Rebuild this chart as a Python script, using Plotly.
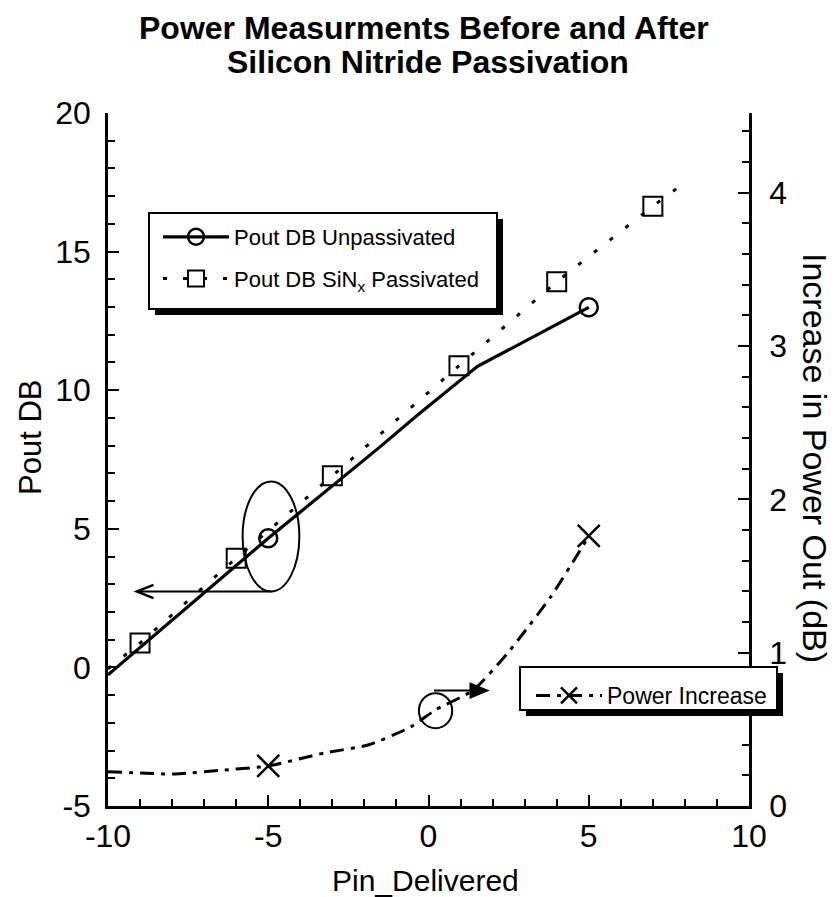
import plotly.graph_objects as go

# ---------------- data ----------------
# Pout DB, unpassivated (solid line, circle markers)
unpass_x = [-10.0, -7.75, -5.0, -1.56, -0.32, 1.53, 5.0]
unpass_y = [-0.27, 1.96, 4.66, 7.91, 9.12, 10.86, 12.99]
unpass_mark_x = [-5.0, 5.0]
unpass_mark_y = [4.66, 12.99]

# Pout DB, SiNx passivated (dotted line, square markers)
pass_x = [-10.0, -9.0, -6.0, -3.0, 0.95, 4.0, 7.0, 7.82]
pass_y = [-0.05, 0.88, 3.94, 6.91, 10.88, 13.91, 16.64, 17.34]
pass_mark_x = [-9.0, -6.0, -3.0, 0.95, 4.0, 7.0]
pass_mark_y = [0.88, 3.94, 6.91, 10.88, 13.91, 16.64]

# Increase in power out (dB), right axis (dash-dot line, x markers)
incr_x = [-10.0, -7.92, -6.36, -5.0, -3.25, -1.89, -0.55, 0.22, 1.40, 2.44, 2.97, 3.80, 4.68, 5.0]
incr_y = [0.224, 0.209, 0.235, 0.261, 0.346, 0.398, 0.516, 0.627, 0.757, 0.99, 1.13, 1.36, 1.65, 1.762]
incr_mark_x = [-5.0, 5.0]
incr_mark_y = [0.261, 1.762]

# axes and tick labels
x_range = [-10, 10]
y_range = [-5, 20]
y2_range = [0, 4.52]
x_tickvals = [-10, -5, 0, 5, 10]
x_ticktext = ["-10", "-5", "0", "5", "10"]
y_tickvals = [-5, 0, 5, 10, 15, 20]
y_ticktext = ["-5", "0", "5", "10", "15", "20"]

# callout annotations (ellipse + arrow to left axis, circle + arrow to right axis)
ell_left = dict(x0=-5.80, x1=-4.03, y0=2.74, y1=6.71)
arrow_left = dict(x_tail=-4.90, x_tip=-9.10, y=2.74)
circ_right = dict(x0=-0.30, x1=0.74, y0=0.507, y1=0.736)
arrow_right = dict(x_tail=0.17, x_tip=1.83, y=0.753)

FONT = "Liberation Sans, Arial, Helvetica, sans-serif"

# ---------------- figure ----------------
L, R, T, B = 108, 91, 113, 91
W, H = 840, 897
PW, PH = W - L - R, H - T - B


def px_x(px):
    return (px - L) / PW


def px_y(py):
    return (H - B - py) / PH


fig = go.Figure()

DOT = "4px,16px"
DASHDOT = "14px,7px,4px,7px"

# lines
fig.add_trace(go.Scatter(x=unpass_x, y=unpass_y, mode="lines", showlegend=False,
                         line=dict(color="black", width=3.2), hoverinfo="skip"))
fig.add_trace(go.Scatter(x=pass_x, y=pass_y, mode="lines", showlegend=False,
                         line=dict(color="black", width=3, dash=DOT), hoverinfo="skip"))
fig.add_trace(go.Scatter(x=incr_x, y=incr_y, mode="lines", yaxis="y2", showlegend=False,
                         line=dict(color="black", width=3, dash=DASHDOT, shape="spline", smoothing=0.6),
                         hoverinfo="skip"))
# markers
fig.add_trace(go.Scatter(x=unpass_mark_x, y=unpass_mark_y, mode="markers", showlegend=False,
                         marker=dict(symbol="circle-open", size=18, color="black",
                                     line=dict(color="black", width=2.5))))
fig.add_trace(go.Scatter(x=pass_mark_x, y=pass_mark_y, mode="markers", showlegend=False,
                         marker=dict(symbol="square-open", size=19, color="black",
                                     line=dict(color="black", width=2))))
fig.add_trace(go.Scatter(x=incr_mark_x, y=incr_mark_y, mode="markers", yaxis="y2", showlegend=False,
                         marker=dict(symbol="x-thin-open", size=22, color="black",
                                     line=dict(color="black", width=2.5))))

# legend entries
fig.add_trace(go.Scatter(x=[None], y=[None], mode="lines+markers", name="Pout DB Unpassivated",
                         legend="legend", legendgroup="a",
                         line=dict(color="black", width=3.2),
                         marker=dict(symbol="circle-open", size=18, color="black",
                                     line=dict(color="black", width=2.5))))
fig.add_trace(go.Scatter(x=[None], y=[None], mode="lines+markers",
                         name="Pout DB SiN<sub>x</sub> Passivated",
                         legend="legend", legendgroup="b",
                         line=dict(color="black", width=3, dash=DOT),
                         marker=dict(symbol="square-open", size=16, color="black",
                                     line=dict(color="black", width=2))))
fig.add_trace(go.Scatter(x=[None], y=[None], mode="lines+markers", name="Power Increase",
                         legend="legend2", yaxis="y2",
                         line=dict(color="black", width=3, dash=DASHDOT),
                         marker=dict(symbol="x-thin-open", size=18, color="black",
                                     line=dict(color="black", width=2.5))))

axis_common = dict(showline=True, linecolor="black", linewidth=2.5, showgrid=False, zeroline=False,
                   ticks="inside", ticklen=11, tickwidth=2, tickcolor="black",
                   tickfont=dict(family=FONT, size=32, color="black"))

fig.update_layout(
    width=W, height=H,
    margin=dict(l=L, r=R, t=T, b=B, pad=0),
    paper_bgcolor="white", plot_bgcolor="white",
    font=dict(family=FONT, color="black"),
    xaxis=dict(range=x_range, tickmode="array", tickvals=x_tickvals, ticktext=x_ticktext,
               ticklabelstandoff=0,
               minor=dict(ticks="inside", dtick=1, tick0=0, ticklen=7, tickwidth=2, tickcolor="black"),
               **axis_common),
    yaxis=dict(range=y_range, tickmode="array", tickvals=y_tickvals, ticktext=y_ticktext,
               ticklabelstandoff=8,
               minor=dict(ticks="inside", dtick=1, tick0=0, ticklen=7, tickwidth=2, tickcolor="black"),
               **axis_common),
    yaxis2=dict(range=y2_range, dtick=1, tick0=0, overlaying="y", side="right", anchor="x",
                ticklabelstandoff=11,
                minor=dict(ticks="inside", dtick=0.2, ticklen=7, tickwidth=2, tickcolor="black"),
                **axis_common),
    legend=dict(x=px_x(158), y=px_y(216), xanchor="left", yanchor="top",
                bgcolor="rgba(0,0,0,0)", borderwidth=0, itemwidth=66,
                tracegroupgap=10, traceorder="grouped",
                font=dict(family=FONT, size=22, color="black")),
    legend2=dict(x=px_x(531), y=px_y(674), xanchor="left", yanchor="top",
                 bgcolor="rgba(0,0,0,0)", borderwidth=0, itemwidth=66,
                 font=dict(family=FONT, size=23, color="black")),
)

shapes = []
# legend frames with drop shadows
for (x0, y0, x1, y1) in [(149, 213, 497, 309), (520, 667, 777, 710)]:
    shapes.append(dict(type="rect", xref="paper", yref="paper", layer="above",
                       x0=px_x(x0 + 6), x1=px_x(x1 + 6), y0=px_y(y1 + 6), y1=px_y(y0 + 6),
                       fillcolor="black", line=dict(width=0)))
    shapes.append(dict(type="rect", xref="paper", yref="paper", layer="above",
                       x0=px_x(x0), x1=px_x(x1), y0=px_y(y1), y1=px_y(y0),
                       fillcolor="white", line=dict(color="black", width=2)))

# callouts
shapes.append(dict(type="circle", xref="x", yref="y", layer="above", **ell_left,
                   line=dict(color="black", width=2)))
shapes.append(dict(type="line", xref="x", yref="y", layer="above",
                   x0=arrow_left["x_tail"], x1=arrow_left["x_tip"],
                   y0=arrow_left["y"], y1=arrow_left["y"], line=dict(color="black", width=2)))
ahx, ahy = 0.52, 0.24
shapes.append(dict(type="path", xref="x", yref="y", layer="above",
                   path=(f"M{arrow_left['x_tip'] + ahx},{arrow_left['y'] + ahy} "
                         f"L{arrow_left['x_tip']},{arrow_left['y']} "
                         f"L{arrow_left['x_tip'] + ahx},{arrow_left['y'] - ahy}"),
                   line=dict(color="black", width=2.5)))
shapes.append(dict(type="circle", xref="x", yref="y2", layer="above", **circ_right,
                   line=dict(color="black", width=2)))
shapes.append(dict(type="line", xref="x", yref="y2", layer="above",
                   x0=arrow_right["x_tail"], x1=arrow_right["x_tip"],
                   y0=arrow_right["y"], y1=arrow_right["y"], line=dict(color="black", width=2)))
ahy2 = 0.045
shapes.append(dict(type="path", xref="x", yref="y2", layer="above",
                   path=(f"M{arrow_right['x_tip'] - ahx},{arrow_right['y'] + ahy2} "
                         f"L{arrow_right['x_tip']},{arrow_right['y']} "
                         f"L{arrow_right['x_tip'] - ahx},{arrow_right['y'] - ahy2} Z"),
                   fillcolor="black", line=dict(color="black", width=2)))
fig.update_layout(shapes=shapes)

annotations = [
    dict(text="<b>Power Measurments Before and After</b>", x=px_x(424), y=px_y(28),
         font=dict(family=FONT, size=32, color="black")),
    dict(text="<b>Silicon Nitride Passivation</b>", x=px_x(428), y=px_y(62),
         font=dict(family=FONT, size=32, color="black")),
    dict(text="Pin_Delivered", x=px_x(425), y=px_y(880),
         font=dict(family=FONT, size=30, color="black")),
    dict(text="Pout DB", x=px_x(31), y=px_y(438), textangle=-90,
         font=dict(family=FONT, size=31, color="black")),
    dict(text="Increase in Power Out (dB)", x=px_x(815), y=px_y(458), textangle=90,
         font=dict(family=FONT, size=34, color="black")),
]
for a in annotations:
    a.update(xref="paper", yref="paper", showarrow=False, xanchor="center", yanchor="middle")
fig.update_layout(annotations=annotations)

fig.write_html("out.html", config={"displayModeBar": False},
               post_script="document.body.style.margin='0px';document.body.style.padding='0px';")
